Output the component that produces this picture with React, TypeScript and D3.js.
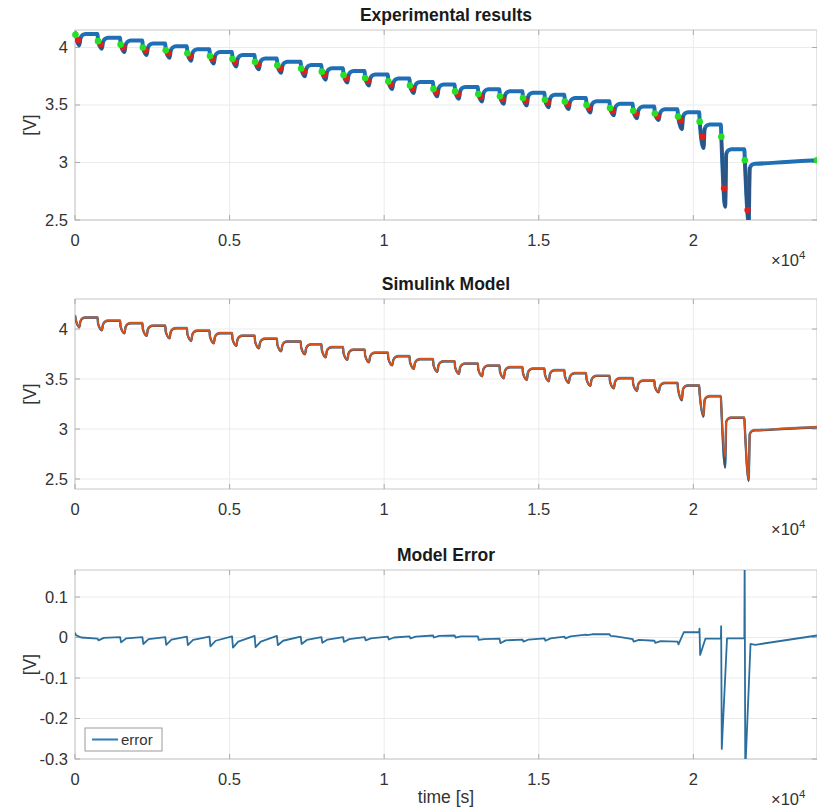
import React, { useRef, useEffect } from "react";
import * as d3 from "d3";

// pulse start times [s]
const pulseTimes = [0, 730, 1460, 2180, 2920, 3620, 4350, 5080, 5810, 6530, 7300, 7970, 8670, 9370, 10120, 10820, 11580, 12280, 13030, 13730, 14475, 15185, 15830, 16530, 17290, 18040, 18740, 19490, 20190, 20890, 21650];
// rest voltage just before each pulse
const restV = [4.14, 4.117, 4.085, 4.06, 4.035, 4.01, 3.985, 3.96, 3.935, 3.905, 3.877, 3.848, 3.82, 3.795, 3.765, 3.73, 3.7, 3.678, 3.656, 3.636, 3.62, 3.606, 3.59, 3.56, 3.533, 3.51, 3.486, 3.462, 3.437, 3.33, 3.115];
// lowest voltage in each pulse
const dipV = [4.02, 3.99, 3.96, 3.935, 3.91, 3.885, 3.86, 3.835, 3.81, 3.78, 3.75, 3.72, 3.695, 3.67, 3.64, 3.605, 3.575, 3.555, 3.53, 3.51, 3.495, 3.48, 3.465, 3.435, 3.41, 3.385, 3.37, 3.29, 3.126, 2.616, 2.485];
const greenV = [4.11, 4.055, 4.025, 4.0, 3.975, 3.95, 3.925, 3.9, 3.875, 3.845, 3.817, 3.79, 3.76, 3.735, 3.705, 3.67, 3.64, 3.618, 3.596, 3.576, 3.56, 3.546, 3.53, 3.5, 3.473, 3.45, 3.426, 3.4, 3.355, 3.224, 3.02];
const redV = [4.065, 4.03, 4.0, 3.975, 3.95, 3.925, 3.9, 3.875, 3.85, 3.82, 3.792, 3.765, 3.735, 3.71, 3.68, 3.645, 3.615, 3.593, 3.571, 3.551, 3.535, 3.521, 3.505, 3.475, 3.448, 3.425, 3.401, 3.37, 3.224, 2.775, 2.587];
// rest after the last pulse
const tailT = [22000, 23000, 24000];
const tailV = [2.99, 3.005, 3.02];
const endMarkerT = 24000;
const endMarkerV = 3.02;
// simulink model dips (only deep pulses differ)
const modelDipV = [4.02, 3.99, 3.96, 3.935, 3.91, 3.885, 3.86, 3.835, 3.81, 3.78, 3.75, 3.72, 3.695, 3.67, 3.64, 3.605, 3.575, 3.555, 3.53, 3.51, 3.495, 3.48, 3.465, 3.435, 3.41, 3.385, 3.37, 3.3, 3.14, 2.72, 2.5];

// model error per pulse
const errBase = [0.012, -0.003, 0.001, 0.001, 0.001, 0.002, 0.002, 0.003, 0.004, 0.004, 0.002, 0.001, 0.001, 0.001, 0.002, 0.003, 0.005, 0.005, 0.003, -0.003, -0.005, -0.002, 0.002, 0.007, 0.008, -0.004, -0.008, -0.01, 0.013, -0.003, -0.002];
const errUp = [null, null, null, null, null, null, null, null, null, null, null, null, null, null, null, null, null, null, null, null, null, null, null, null, null, null, null, null, 0.022, 0.028, 0.2];
const errDip = [0.006, -0.007, -0.012, -0.016, -0.018, -0.019, -0.022, -0.025, -0.024, -0.019, -0.016, -0.013, -0.011, -0.007, -0.005, -0.002, 0.0, 0.0, -0.006, -0.014, -0.01, -0.008, -0.002, 0.006, 0.004, -0.01, -0.013, -0.017, -0.043, -0.275, -0.33];
const errRec = [0.0, -0.001, -0.002, -0.004, -0.005, -0.006, -0.008, -0.01, -0.01, -0.008, -0.006, -0.005, -0.004, -0.002, 0.0, 0.002, 0.004, 0.003, -0.004, -0.007, -0.005, -0.002, 0.003, 0.008, 0.003, -0.006, -0.009, 0.013, -0.003, -0.002, -0.016];
const errTailT = [22000, 24000];
const errTailV = [-0.018, 0.005];

const xTicks = [0, 5000, 10000, 15000, 20000];
const xTickLabels = ["0", "0.5", "1", "1.5", "2"];
const voltTicks = [2.5, 3, 3.5, 4];
const errTicks = [-0.3, -0.2, -0.1, 0, 0.1];

const W = 817;
const H = 809;
const left = 75;
const right = 817;
const font = "'Liberation Sans', Arial, sans-serif";

type Pt = [number, number];

function voltPoints(dips: number[]): Pt[] {
	const pts: Pt[] = [];
	pulseTimes.forEach((t, k) => {
		const next = k < pulseTimes.length - 1 ? restV[k + 1] : tailV[0];
		pts.push([t, restV[k]]);
		pts.push([t + 15, greenV[k]]);
		pts.push([t + 140, dips[k]]);
		pts.push([t + 175, next - 0.04]);
		pts.push([t + 240, next - 0.01]);
		pts.push([t + 340, next]);
	});
	tailT.forEach((t, i) => pts.push([t, tailV[i]]));
	return pts;
}

function errPoints(): Pt[] {
	const pts: Pt[] = [];
	pulseTimes.forEach((t, k) => {
		pts.push([t, errBase[k]]);
		if (errUp[k] !== null) pts.push([t + 10, errUp[k] as number]);
		pts.push([t + 30, errDip[k]]);
		pts.push([t + 200, errRec[k]]);
	});
	errTailT.forEach((t, i) => pts.push([t, errTailV[i]]));
	return pts;
}

const App = () => {
	const ref = useRef<SVGSVGElement>(null);

	useEffect(() => {
		const svg = d3.select(ref.current);
		svg.selectAll("*").remove();

		const x = d3.scaleLinear().domain([0, 24000]).range([left, right]);

		const panels = [
			{ title: "Experimental results", top: 30, bottom: 220, domain: [2.5, 4.152], ticks: voltTicks, id: "p1" },
			{ title: "Simulink Model", top: 299, bottom: 489, domain: [2.4, 4.3], ticks: voltTicks, id: "p2" },
			{ title: "Model Error", top: 570, bottom: 759, domain: [-0.3, 0.1667], ticks: errTicks, id: "p3" },
		];

		const ys = panels.map((p) => {
			const y = d3.scaleLinear().domain(p.domain).range([p.bottom, p.top]);
			const g = svg.append("g");

			svg.append("clipPath").attr("id", p.id)
				.append("rect").attr("x", left).attr("y", p.top)
				.attr("width", right - left).attr("height", p.bottom - p.top);

			// grid
			g.selectAll(".gx").data(xTicks).enter().append("line")
				.attr("x1", (d) => x(d)).attr("x2", (d) => x(d))
				.attr("y1", p.top).attr("y2", p.bottom)
				.attr("stroke", "#ebebeb");
			g.selectAll(".gy").data(p.ticks).enter().append("line")
				.attr("x1", left).attr("x2", right)
				.attr("y1", (d) => y(d)).attr("y2", (d) => y(d))
				.attr("stroke", "#ebebeb");

			// box
			g.append("rect").attr("x", left).attr("y", p.top)
				.attr("width", right - left).attr("height", p.bottom - p.top)
				.attr("fill", "none").attr("stroke", "#c6c6c6");

			// inward ticks
			xTicks.forEach((d) => {
				g.append("line").attr("x1", x(d)).attr("x2", x(d))
					.attr("y1", p.bottom).attr("y2", p.bottom - 5).attr("stroke", "#aaa");
				g.append("line").attr("x1", x(d)).attr("x2", x(d))
					.attr("y1", p.top).attr("y2", p.top + 5).attr("stroke", "#aaa");
			});
			p.ticks.forEach((d) => {
				g.append("line").attr("x1", left).attr("x2", left + 5)
					.attr("y1", y(d)).attr("y2", y(d)).attr("stroke", "#aaa");
				g.append("line").attr("x1", right - 5).attr("x2", right)
					.attr("y1", y(d)).attr("y2", y(d)).attr("stroke", "#aaa");
			});

			// tick labels
			g.selectAll(".xl").data(xTicks).enter().append("text")
				.attr("x", (d) => x(d)).attr("y", p.bottom + 26)
				.attr("text-anchor", "middle").attr("font-size", 16.5)
				.attr("font-family", font).attr("fill", "#333")
				.text((d, i) => xTickLabels[i]);
			g.selectAll(".yl").data(p.ticks).enter().append("text")
				.attr("x", left - 7).attr("y", (d) => y(d) + 5.5)
				.attr("text-anchor", "end").attr("font-size", 16.5)
				.attr("font-family", font).attr("fill", "#333")
				.text((d) => String(d));

			// x10^4
			const ex = g.append("text").attr("x", 771).attr("y", p.bottom + 46)
				.attr("font-size", 16.5).attr("font-family", font).attr("fill", "#333");
			ex.append("tspan").text("×10");
			ex.append("tspan").attr("dy", -7).attr("font-size", 11.5).text("4");

			// title
			g.append("text").attr("x", (left + right) / 2).attr("y", p.top - 9)
				.attr("text-anchor", "middle").attr("font-size", 17.5).attr("font-weight", "bold")
				.attr("font-family", font).attr("fill", "#1a1a1a").text(p.title);

			// y label
			g.append("text")
				.attr("transform", `translate(30,${(p.top + p.bottom) / 2}) rotate(-90)`)
				.attr("text-anchor", "middle").attr("dominant-baseline", "central")
				.attr("font-size", 17.5).attr("font-family", font).attr("fill", "#333")
				.text("[V]");
			return y;
		});

		// panel 1: measured
		const y1 = ys[0];
		const line1 = d3.line<Pt>().x((d) => x(d[0])).y((d) => y1(d[1])).curve(d3.curveMonotoneX);
		const meas = voltPoints(dipV);
		const g1 = svg.append("g").attr("clip-path", "url(#p1)");
		g1.append("path").attr("d", line1(meas)).attr("fill", "none")
			.attr("stroke", "#1f6fb5").attr("stroke-width", 4).attr("stroke-linejoin", "round");
		pulseTimes.forEach((t) => {
			const seg = meas.filter((d) => d[0] >= t + 15 && d[0] <= t + 175);
			g1.append("path").attr("d", line1(seg))
				.attr("fill", "none").attr("stroke", "#2d5482").attr("stroke-width", 3)
				.attr("stroke-linecap", "round");
		});
		const g1m = svg.append("g");
		g1m.selectAll(".red").data(pulseTimes).enter().append("circle")
			.attr("cx", (d) => x(d + 105)).attr("cy", (d, i) => y1(redV[i]))
			.attr("r", 3.2).attr("fill", "#e0201c");
		g1m.selectAll(".green").data(pulseTimes).enter().append("circle")
			.attr("cx", (d) => x(d + 15)).attr("cy", (d, i) => y1(greenV[i]))
			.attr("r", 3.3).attr("fill", "#22e022");
		g1m.append("circle").attr("cx", x(endMarkerT)).attr("cy", y1(endMarkerV))
			.attr("r", 3.3).attr("fill", "#22e022");

		// panel 2: model over measured
		const y2 = ys[1];
		const line2 = d3.line<Pt>().x((d) => x(d[0])).y((d) => y2(d[1])).curve(d3.curveMonotoneX);
		const g2 = svg.append("g").attr("clip-path", "url(#p2)");
		g2.append("path").attr("d", line2(meas)).attr("fill", "none")
			.attr("stroke", "#3aa0dc").attr("stroke-width", 2.4);
		g2.append("path").attr("d", line2(meas.map((d) => [d[0], d[1] - 0.004] as Pt))).attr("fill", "none")
			.attr("stroke", "#4a4f63").attr("stroke-width", 2);
		g2.append("path").attr("d", line2(voltPoints(modelDipV))).attr("fill", "none")
			.attr("stroke", "#d95319").attr("stroke-width", 1.8);

		// panel 3: error
		const y3 = ys[2];
		const line3 = d3.line<Pt>().x((d) => x(d[0])).y((d) => y3(d[1]));
		const g3 = svg.append("g").attr("clip-path", "url(#p3)");
		g3.append("path").attr("d", line3(errPoints())).attr("fill", "none")
			.attr("stroke", "#2b6f9e").attr("stroke-width", 1.8).attr("stroke-linejoin", "round");

		// legend
		const lg = svg.append("g");
		lg.append("rect").attr("x", 85).attr("y", 728).attr("width", 77).attr("height", 23)
			.attr("fill", "#fff").attr("stroke", "#9a9a9a");
		lg.append("line").attr("x1", 92).attr("x2", 118).attr("y1", 739.5).attr("y2", 739.5)
			.attr("stroke", "#2d7db8").attr("stroke-width", 2);
		lg.append("text").attr("x", 121).attr("y", 745).attr("font-size", 15)
			.attr("font-family", font).attr("fill", "#333").text("error");

		// x axis label
		svg.append("text").attr("x", (left + right) / 2).attr("y", 803)
			.attr("text-anchor", "middle").attr("font-size", 17.5)
			.attr("font-family", font).attr("fill", "#333").text("time [s]");
	}, []);

	return (
		<svg ref={ref} width={W} height={H}
			style={{ position: "absolute", left: 0, top: 0, background: "#fff" }} />
	);
};

export default App;
